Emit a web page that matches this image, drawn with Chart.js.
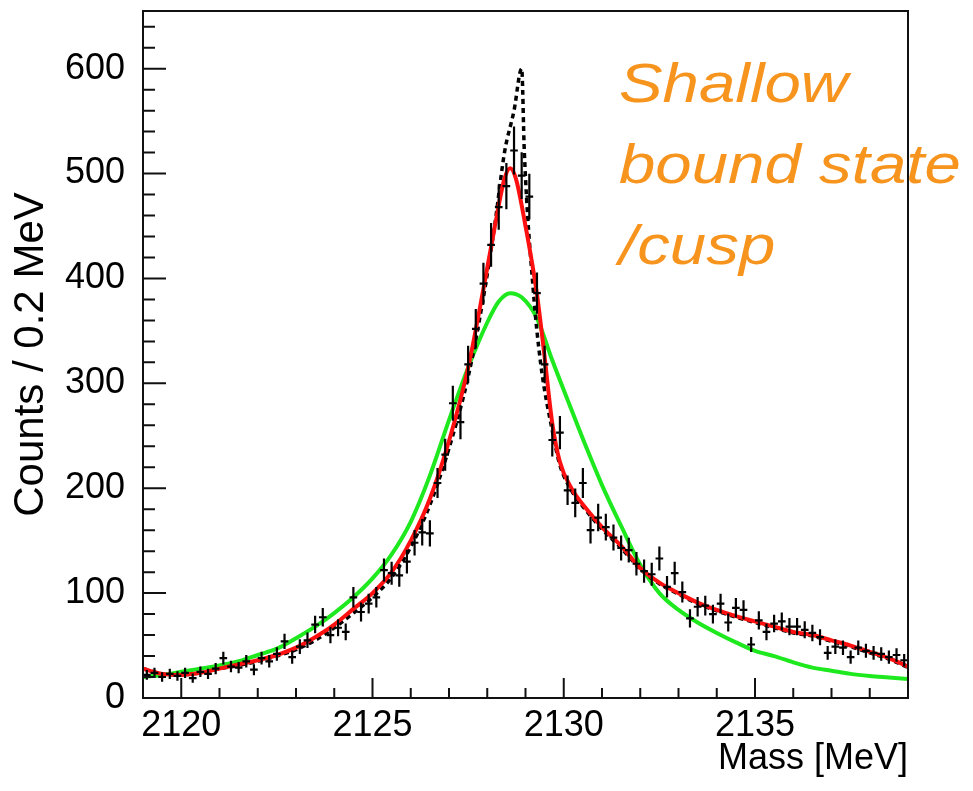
<!DOCTYPE html>
<html>
<head>
<meta charset="utf-8">
<script src="https://cdn.jsdelivr.net/npm/chart.js@4.4.1/dist/chart.umd.min.js"></script>
<style>
  html, body { margin: 0; padding: 0; background: #fff; }
  #wrap { width: 973px; height: 791px; }
</style>
</head>
<body>
<div id="wrap"><canvas id="massChart" width="973" height="791"></canvas></div>
<script>
// histogram, 0.2 MeV bins
const binCentres = [
  2119.1, 2119.3, 2119.5, 2119.7, 2119.9, 2120.1, 2120.3, 2120.5, 2120.7, 2120.9,
  2121.1, 2121.3, 2121.5, 2121.7, 2121.9, 2122.1, 2122.3, 2122.5, 2122.7, 2122.9,
  2123.1, 2123.3, 2123.5, 2123.7, 2123.9, 2124.1, 2124.3, 2124.5, 2124.7, 2124.9,
  2125.1, 2125.3, 2125.5, 2125.7, 2125.9, 2126.1, 2126.3, 2126.5, 2126.7, 2126.9,
  2127.1, 2127.3, 2127.5, 2127.7, 2127.9, 2128.1, 2128.3, 2128.5, 2128.7, 2128.9,
  2129.1, 2129.3, 2129.5, 2129.7, 2129.9, 2130.1, 2130.3, 2130.5, 2130.7, 2130.9,
  2131.1, 2131.3, 2131.5, 2131.7, 2131.9, 2132.1, 2132.3, 2132.5, 2132.7, 2132.9,
  2133.1, 2133.3, 2133.5, 2133.7, 2133.9, 2134.1, 2134.3, 2134.5, 2134.7, 2134.9,
  2135.1, 2135.3, 2135.5, 2135.7, 2135.9, 2136.1, 2136.3, 2136.5, 2136.7, 2136.9,
  2137.1, 2137.3, 2137.5, 2137.7, 2137.9, 2138.1, 2138.3, 2138.5, 2138.7, 2138.9
];
const counts = [
  22, 24, 20, 23, 21, 24, 19, 25, 23, 28,
  38, 30, 29, 35, 27, 38, 35, 42, 54, 39,
  49, 55, 70, 77, 60, 67, 63, 96, 82, 90,
  96, 122, 119, 117, 130, 148, 158, 157, 205, 232,
  281, 263, 318, 352, 395, 432, 468, 488, 522, 498,
  478, 386, 318, 246, 253, 198, 186, 205, 160, 172,
  163, 153, 143, 141, 128, 121, 118, 133, 106, 119,
  101, 76, 87, 88, 80, 90, 72, 86, 84, 51,
  74, 63, 71, 73, 68, 68, 65, 62, 58, 43,
  49, 48, 39, 48, 45, 43, 42, 39, 41, 36
];
const binWidth = 0.2;

// red fit
const redX = [2119, 2119.5, 2120, 2120.5, 2121, 2121.5, 2122, 2122.5, 2123, 2123.5,
  2124, 2124.5, 2125, 2125.5, 2126, 2126.5, 2127, 2127.5, 2127.9, 2128.2,
  2128.45, 2128.6, 2128.75, 2129.0, 2129.3, 2129.5, 2129.7, 2129.9, 2130.2, 2130.6,
  2131, 2131.5, 2132, 2132.5, 2133, 2133.5, 2134, 2134.5, 2135, 2135.5,
  2136, 2136.5, 2137, 2137.5, 2138, 2138.5, 2139];
const redY = [28, 23, 22, 24, 28, 32, 36, 41, 48, 58,
  70, 85, 100, 120, 150, 190, 245, 315, 390, 450,
  495, 505, 495, 450, 385, 325, 262, 225, 200, 180,
  163, 145, 124, 110, 100, 91, 84, 78, 73, 68,
  63, 60, 55, 50, 44, 38, 30];

// dashed black curve (cusp)
const dashX = [2119, 2119.5, 2120, 2120.5, 2121, 2121.5, 2122, 2122.5, 2123, 2123.5,
  2124, 2124.5, 2125, 2125.5, 2126, 2126.5, 2127, 2127.5, 2127.9, 2128.2,
  2128.45, 2128.7, 2128.9, 2128.97, 2129.2, 2129.4, 2129.7, 2129.9, 2130.2, 2130.6,
  2131, 2131.5, 2132, 2132.5, 2133, 2133.5, 2134, 2134.5, 2135, 2135.5,
  2136, 2136.5, 2137, 2137.5, 2138, 2138.5, 2139];
const dashY = [28, 23, 22, 24, 28, 31, 35, 40, 46, 55,
  67, 81, 96, 115, 144, 184, 238, 306, 382, 452,
  520, 560, 600, 520, 390, 318, 255, 222, 198, 178,
  161, 143, 123, 109, 99, 90, 83, 77, 72, 67,
  62, 59, 54, 49, 43, 37, 29];

// green curve
const greenX = [2119, 2119.5, 2120, 2120.5, 2121, 2121.5, 2122, 2122.5, 2123, 2123.5,
  2124, 2124.5, 2125, 2125.5, 2126, 2126.5, 2127, 2127.5, 2128, 2128.3,
  2128.6, 2128.9, 2129.3, 2129.7, 2130.2, 2130.6, 2131, 2131.5, 2132, 2132.5,
  2133, 2133.5, 2134, 2134.5, 2135, 2135.5, 2136, 2136.5, 2137, 2137.5,
  2138, 2138.5, 2139];
const greenY = [20, 22, 25, 28, 31, 35, 41, 47, 57, 68,
  81, 96, 114, 137, 168, 212, 265, 315, 358, 378,
  386, 382, 362, 322, 275, 238, 203, 164, 127, 100,
  84, 72, 62, 53, 45, 40, 34, 29, 26, 23,
  21, 19.5, 18];

const xTicksMinor = [2119, 2120, 2121, 2122, 2123, 2124, 2125, 2126, 2127, 2128, 2129,
  2130, 2131, 2132, 2133, 2134, 2135, 2136, 2137, 2138, 2139];
const xTicksMajor = [2120, 2125, 2130, 2135];
const yTicksMinor = [0, 20, 40, 60, 80, 100, 120, 140, 160, 180, 200, 220, 240, 260, 280, 300,
  320, 340, 360, 380, 400, 420, 440, 460, 480, 500, 520, 540, 560, 580, 600, 620, 640];
const yTicksMajor = [0, 100, 200, 300, 400, 500, 600];

const noteLines = ['Shallow', 'bound state', '/cusp'];

const toPoints = (xs, ys) => xs.map((x, i) => ({ x: x, y: ys[i] }));
const FONT = '"Liberation Sans", Arial, Helvetica, sans-serif';

// ROOT style frame, inward ticks, error bars and the orange note
const rootStyle = {
  id: 'rootStyle',
  afterDatasetsDraw(chart) {
    const { ctx, scales: { x, y } } = chart;
    const meta = chart.getDatasetMeta(3);
    ctx.save();
    ctx.strokeStyle = '#000';
    ctx.lineWidth = 2.2;
    ctx.beginPath();
    meta.data.forEach((pt, i) => {
      const n = counts[i];
      const err = Math.sqrt(n);
      const x0 = x.getPixelForValue(binCentres[i] - binWidth / 2);
      const x1 = x.getPixelForValue(binCentres[i] + binWidth / 2);
      ctx.moveTo(x0, pt.y);
      ctx.lineTo(x1, pt.y);
      ctx.moveTo(pt.x, y.getPixelForValue(n - err));
      ctx.lineTo(pt.x, y.getPixelForValue(n + err));
    });
    ctx.stroke();
    ctx.restore();
  },
  afterDraw(chart) {
    const { ctx, chartArea: a, scales: { x, y } } = chart;
    ctx.save();
    // note text
    ctx.fillStyle = '#F7941E';
    ctx.font = 'italic 60px ' + FONT;
    ctx.textBaseline = 'alphabetic';
    noteLines.forEach((t, i) => {
      ctx.save();
      ctx.translate(a.right - 289, a.top + 91 + i * 81);
      ctx.scale(1.09, 0.92);
      ctx.fillText(t, 0, 0);
      ctx.restore();
    });

    // ticks
    ctx.strokeStyle = '#111';
    ctx.lineWidth = 2;
    ctx.beginPath();
    xTicksMinor.forEach(v => {
      const px = x.getPixelForValue(v);
      ctx.moveTo(px, a.bottom);
      ctx.lineTo(px, a.bottom - 10);
    });
    xTicksMajor.forEach(v => {
      const px = x.getPixelForValue(v);
      ctx.moveTo(px, a.bottom);
      ctx.lineTo(px, a.bottom - 20);
    });
    yTicksMinor.forEach(v => {
      const py = y.getPixelForValue(v);
      ctx.moveTo(a.left, py);
      ctx.lineTo(a.left + 12, py);
    });
    yTicksMajor.forEach(v => {
      const py = y.getPixelForValue(v);
      ctx.moveTo(a.left, py);
      ctx.lineTo(a.left + 23, py);
    });
    ctx.stroke();

    // frame
    ctx.strokeRect(a.left, a.top, a.right - a.left, a.bottom - a.top);
    ctx.restore();
  }
};

const ctx = document.getElementById('massChart').getContext('2d');
const massChart = new Chart(ctx, {
  type: 'line',
  data: {
    datasets: [
      {
        label: 'fit',
        data: toPoints(redX, redY),
        borderColor: '#ff1010',
        borderWidth: 4,
        cubicInterpolationMode: 'monotone',
        pointRadius: 0,
        fill: false
      },
      {
        label: 'cusp',
        data: toPoints(dashX, dashY),
        borderColor: '#000000',
        borderWidth: 3.5,
        borderDash: [5, 4],
        cubicInterpolationMode: 'monotone',
        pointRadius: 0,
        fill: false
      },
      {
        label: 'bound state',
        data: toPoints(greenX, greenY),
        borderColor: '#1ee81e',
        borderWidth: 4,
        cubicInterpolationMode: 'monotone',
        pointRadius: 0,
        fill: false
      },
      {
        label: 'data',
        data: toPoints(binCentres, counts),
        showLine: false,
        pointRadius: 0,
        borderColor: '#000'
      }
    ]
  },
  options: {
    responsive: false,
    animation: false,
    devicePixelRatio: 1,
    layout: { padding: { left: 0, right: 65, top: 11, bottom: 0 } },
    plugins: {
      legend: { display: false },
      tooltip: { enabled: false }
    },
    scales: {
      x: {
        type: 'linear',
        min: 2119,
        max: 2139,
        grid: { display: false },
        border: { display: false },
        afterBuildTicks: s => { s.ticks = xTicksMajor.map(v => ({ value: v })); },
        afterFit: s => { s.height = 93; s.paddingLeft = 0; s.paddingRight = 0; },
        ticks: {
          autoSkip: false,
          maxRotation: 0,
          padding: -2,
          color: '#000',
          font: { family: FONT, size: 36 },
          callback: v => String(v)
        },
        title: {
          display: true,
          text: 'Mass [MeV]',
          align: 'end',
          color: '#000',
          font: { family: FONT, size: 36 },
          padding: { top: 0, bottom: 10 }
        }
      },
      y: {
        type: 'linear',
        min: 0,
        max: 655,
        grid: { display: false },
        border: { display: false },
        afterBuildTicks: s => { s.ticks = yTicksMajor.map(v => ({ value: v })); },
        afterFit: s => { s.width = 143; s.paddingTop = 0; s.paddingBottom = 0; },
        ticks: {
          padding: 10,
          color: '#000',
          font: { family: FONT, size: 36 },
          callback: v => String(v)
        },
        title: {
          display: true,
          text: 'Counts / 0.2 MeV',
          color: '#000',
          font: { family: FONT, size: 42 },
          padding: { top: 6, bottom: 0 }
        }
      }
    }
  },
  plugins: [rootStyle]
});
</script>
</body>
</html>
